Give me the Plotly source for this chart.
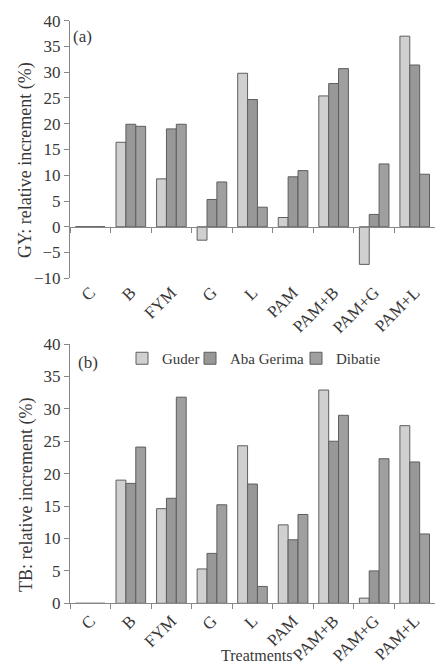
import plotly.graph_objects as go

categories = ["C", "B", "FYM", "G", "L", "PAM", "PAM+B", "PAM+G", "PAM+L"]
series_names = ["Guder", "Aba Gerima", "Dibatie"]

gy_guder = [0, 16.4, 9.3, -2.6, 29.8, 1.8, 25.4, -7.3, 37.0]
gy_aba = [0, 19.9, 19.0, 5.3, 24.7, 9.7, 27.8, 2.4, 31.4]
gy_dibatie = [0, 19.5, 19.9, 8.7, 3.8, 10.9, 30.7, 12.2, 10.2]

tb_guder = [0, 19.0, 14.6, 5.3, 24.3, 12.1, 32.9, 0.8, 27.4]
tb_aba = [0, 18.5, 16.2, 7.7, 18.4, 9.8, 25.0, 5.0, 21.8]
tb_dibatie = [0, 24.1, 31.8, 15.2, 2.6, 13.7, 29.0, 22.3, 10.7]

colors = ["#d0d0d0", "#989898", "#9f9f9f"]
outline = "#5e5e5e"
font_family = "Liberation Serif"
txt_color = "#383838"
axis_color = "#888888"

W, H = 438, 664
x_dom = [70 / W, 435 / W]
top_dom = [1 - 278.3 / H, 1 - 20.7 / H]
bot_dom = [1 - 603.3 / H, 1 - 344 / H]
top_range = [-10, 40]
bot_range = [0, 40]
legend_ids = ["legend", "legend2", "legend3"]
legend_x_px = [122, 190, 296]

fig = go.Figure()

for name, vals, col in zip(series_names, [gy_guder, gy_aba, gy_dibatie], colors):
    fig.add_trace(go.Bar(x=categories, y=vals, name=name, marker=dict(color=col, line=dict(color=outline, width=1)),
                         xaxis="x", yaxis="y", showlegend=False))
for name, vals, col, lg in zip(series_names, [tb_guder, tb_aba, tb_dibatie], colors, legend_ids):
    fig.add_trace(go.Bar(x=categories, y=vals, name=name, marker=dict(color=col, line=dict(color=outline, width=1)),
                         xaxis="x2", yaxis="y2", showlegend=True, legend=lg))
# helper invisible trace for the zero-crossing axis of panel (a)
fig.add_trace(go.Scatter(x=categories, y=[0] * len(categories), mode="markers", marker=dict(opacity=0),
                         xaxis="x3", yaxis="y", showlegend=False, hoverinfo="skip"))

zero_pos = top_dom[0] + (0 - top_range[0]) / (top_range[1] - top_range[0]) * (top_dom[1] - top_dom[0])

tickfont = dict(family=font_family, size=17, color=txt_color)
xtickfont = dict(family=font_family, size=17, color=txt_color)


def legend_cfg(xpx):
    return dict(orientation="h", x=xpx / W, y=1 - 342 / H, xanchor="left", yanchor="top",
                font=dict(family=font_family, size=15, color=txt_color), itemwidth=30,
                bgcolor="rgba(0,0,0,0)")


fig.update_layout(
    width=W, height=H,
    margin=dict(l=0, r=0, t=0, b=0),
    paper_bgcolor="white", plot_bgcolor="white",
    barmode="group", bargap=0.27, bargroupgap=0,
    font=dict(family=font_family, color=txt_color),
    showlegend=True,
    legend=legend_cfg(legend_x_px[0]),
    legend2=legend_cfg(legend_x_px[1]),
    legend3=legend_cfg(legend_x_px[2]),
    xaxis=dict(domain=x_dom, anchor="y", type="category", categoryorder="array", categoryarray=categories,
               showline=False, ticks="", tickangle=-45, tickfont=xtickfont, showgrid=False, zeroline=False,
               automargin=False, range=[-0.5, 8.5]),
    xaxis3=dict(domain=x_dom, anchor="free", position=zero_pos, overlaying="x", type="category",
                categoryorder="array", categoryarray=categories, showline=True, linecolor=axis_color,
                linewidth=1, ticks="outside", ticklen=5, tickcolor=axis_color, tickson="boundaries",
                showticklabels=False, showgrid=False, zeroline=False, range=[-0.5, 8.5], automargin=False),
    yaxis=dict(domain=top_dom, anchor="x", range=top_range, dtick=5, showline=True, linecolor=axis_color,
               ticks="outside", ticklen=5, tickcolor=axis_color, tickfont=tickfont, showgrid=False,
               zeroline=False, automargin=False),
    xaxis2=dict(domain=x_dom, anchor="y2", type="category", categoryorder="array", categoryarray=categories,
                showline=True, linecolor=axis_color, ticks="outside", ticklen=5, tickcolor=axis_color,
                tickson="boundaries", tickangle=-45, tickfont=xtickfont, showgrid=False, zeroline=False,
                automargin=False, range=[-0.5, 8.5]),
    yaxis2=dict(domain=bot_dom, anchor="x2", range=bot_range, dtick=5, showline=True, linecolor=axis_color,
                ticks="outside", ticklen=5, tickcolor=axis_color, tickfont=tickfont, showgrid=False,
                zeroline=False, automargin=False),
    annotations=[
        dict(text="GY: relative increment (%)", x=25 / W, y=1 - 160 / H, xref="paper", yref="paper",
             xanchor="center", yanchor="middle",
             textangle=-90, showarrow=False, font=dict(family=font_family, size=18, color=txt_color)),
        dict(text="TB: relative increment (%)", x=26 / W, y=1 - 495 / H, xref="paper", yref="paper",
             xanchor="center", yanchor="middle",
             textangle=-90, showarrow=False, font=dict(family=font_family, size=18, color=txt_color)),
        dict(text="Treatments", x=256 / W, y=1 - 655 / H, xref="paper", yref="paper", showarrow=False,
             xanchor="center", yanchor="middle",
             font=dict(family=font_family, size=16, color=txt_color)),
        dict(text="(a)", x=82 / W, y=1 - 36 / H, xref="paper", yref="paper", showarrow=False,
             xanchor="center", yanchor="middle",
             font=dict(family=font_family, size=17, color=txt_color)),
        dict(text="(b)", x=88 / W, y=1 - 362 / H, xref="paper", yref="paper", showarrow=False,
             xanchor="center", yanchor="middle",
             font=dict(family=font_family, size=17, color=txt_color)),
    ],
)

fig.write_html("out.html")
